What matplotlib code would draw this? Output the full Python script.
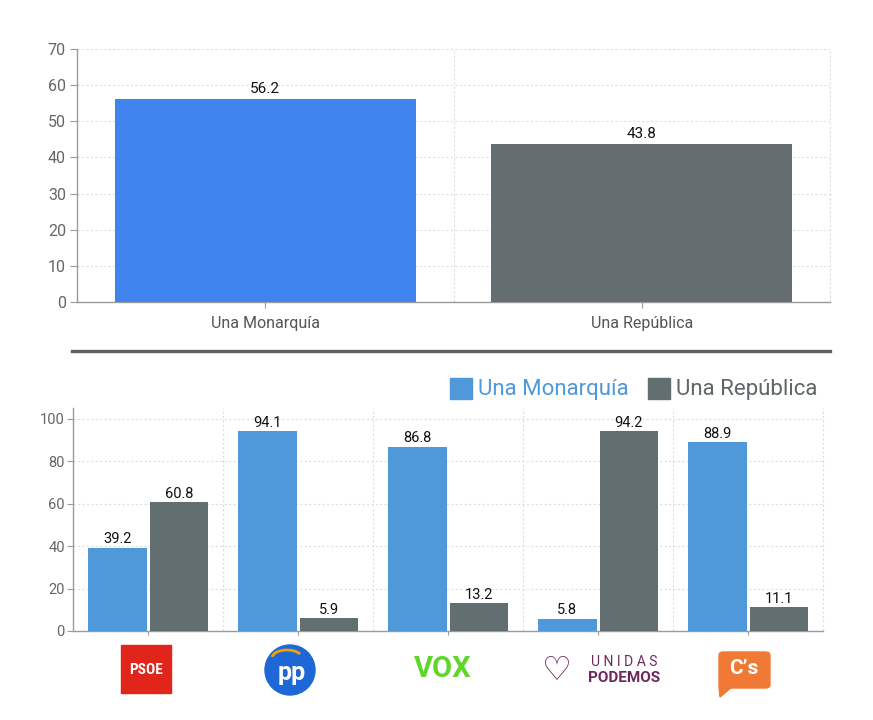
import matplotlib
matplotlib.use("Agg")
import matplotlib.pyplot as plt
from matplotlib.patches import Rectangle, Ellipse, FancyBboxPatch, Polygon, Arc
import numpy as np

plt.rcParams['font.family'] = ['Roboto', 'DejaVu Sans']

top_categories = ["Una Monarquía", "Una República"]
top_values = [56.2, 43.8]

parties = ["PSOE", "PP", "VOX", "UNIDAS PODEMOS", "C's"]
monarquia = [39.2, 94.1, 86.8, 5.8, 88.9]
republica = [60.8, 5.9, 13.2, 94.2, 11.1]

W, H = 873, 720
fig = plt.figure(figsize=(W / 100, H / 100), dpi=100)

def fx(x):
    return x / W

def fy(y):
    return 1 - y / H

TOP_BLUE = "#3f83ee"
TOP_GRAY = "#646d6f"
BLUE = "#4f98d9"
GRAY = "#636e70"
GRID = "#dedede"
SPINE = "#9a9a9a"
TICK = "#666666"

# ---------- Top chart ----------
ax1 = fig.add_axes([fx(77), fy(302), fx(830) - fx(77), fy(49) - fy(302)])
x1 = np.arange(len(top_categories))
bars = ax1.bar(x1, top_values, width=0.80, color=[TOP_BLUE, TOP_GRAY], zorder=3)
for b, v in zip(bars, top_values):
    ax1.text(b.get_x() + b.get_width() / 2, v + 0.8, f"{v:.1f}", ha="center", va="bottom",
             fontsize=11, color="#111111", zorder=4)
ax1.set_xlim(-0.5, len(top_categories) - 0.5)
ax1.set_ylim(0, 70)
ax1.set_yticks(np.arange(0, 71, 10))
ax1.set_xticks(x1)
ax1.set_xticklabels(top_categories, fontsize=11.5, color="#555555")
ax1.set_xticks(np.arange(0.5, len(top_categories) + 0.5, 1), minor=True)
ax1.tick_params(axis="x", which="minor", length=0)
ax1.tick_params(axis="x", which="major", length=4, color=SPINE, pad=6)
ax1.tick_params(axis="y", length=5, color=SPINE, labelsize=11.5, labelcolor=TICK, pad=3)
ax1.grid(axis="y", which="major", color=GRID, linestyle=(0, (2, 2)), linewidth=0.8, zorder=0)
ax1.grid(axis="x", which="minor", color=GRID, linestyle=(0, (2, 2)), linewidth=0.8, zorder=0)
ax1.axvline(len(top_categories) - 0.5, color=GRID, linestyle=(0, (2, 2)), linewidth=0.8,
            zorder=0, clip_on=False)
for s in ["top", "right"]:
    ax1.spines[s].set_visible(False)
for s in ["left", "bottom"]:
    ax1.spines[s].set_color(SPINE)
    ax1.spines[s].set_linewidth(1.0)

# separator line
fig.add_artist(plt.Line2D([fx(72), fx(830)], [fy(351), fy(351)], color="#5c5f61",
                          linewidth=2.4, transform=fig.transFigure))

# ---------- Bottom chart ----------
ax2 = fig.add_axes([fx(73), fy(631), fx(823) - fx(73), fy(408) - fy(631)])
x2 = np.arange(len(parties))
bw = 0.39
off = 0.205
b1 = ax2.bar(x2 - off, monarquia, width=bw, color=BLUE, zorder=3, label="Una Monarquía")
b2 = ax2.bar(x2 + off, republica, width=bw, color=GRAY, zorder=3, label="Una República")
for bb, vals in ((b1, monarquia), (b2, republica)):
    for b, v in zip(bb, vals):
        ax2.text(b.get_x() + b.get_width() / 2, v + 0.6, f"{v:.1f}", ha="center", va="bottom",
                 fontsize=10.5, color="#111111", zorder=4)
ax2.set_xlim(-0.5, len(parties) - 0.5)
ax2.set_ylim(0, 105)
ax2.set_yticks(np.arange(0, 101, 20))
ax2.set_xticks(x2)
ax2.set_xticklabels([])
ax2.set_xticks(np.arange(0.5, len(parties) + 0.5, 1), minor=True)
ax2.tick_params(axis="x", which="minor", length=0)
ax2.tick_params(axis="x", which="major", length=3, color=SPINE)
ax2.tick_params(axis="y", length=4, color=SPINE, labelsize=10.5, labelcolor=TICK, pad=2)
ax2.grid(axis="y", which="major", color=GRID, linestyle=(0, (2, 2)), linewidth=0.8, zorder=0)
ax2.grid(axis="x", which="minor", color=GRID, linestyle=(0, (2, 2)), linewidth=0.8, zorder=0)
ax2.axvline(len(parties) - 0.5, color=GRID, linestyle=(0, (2, 2)), linewidth=0.8,
            zorder=0, clip_on=False)
for s in ["top", "right"]:
    ax2.spines[s].set_visible(False)
for s in ["left", "bottom"]:
    ax2.spines[s].set_color(SPINE)
    ax2.spines[s].set_linewidth(1.0)

# legend (manual, large)
fig.add_artist(Rectangle((fx(450), fy(399)), fx(22), fy(378) - fy(399), color=BLUE,
                         transform=fig.transFigure))
fig.text(fx(478), fy(389), "Una Monarquía", fontsize=16, color="#4f98d9", va="center", ha="left")
fig.add_artist(Rectangle((fx(648), fy(399)), fx(22), fy(378) - fy(399), color=GRAY,
                         transform=fig.transFigure))
fig.text(fx(676), fy(389), "Una República", fontsize=16, color="#5e6668", va="center", ha="left")

# ---------- Party logos ----------
# PSOE
fig.add_artist(Rectangle((fx(121), fy(693)), fx(50), fy(645) - fy(693), color="#e1251b",
                         transform=fig.transFigure))
fig.text(fx(146), fy(670), "PSOE", fontsize=11, fontweight="bold", color="white",
         ha="center", va="center", family=["Roboto Condensed", "Roboto", "DejaVu Sans"])
# PP
fig.add_artist(Ellipse((fx(290), fy(670)), 50 / W, 50 / H, color="#1d68d6",
                       transform=fig.transFigure))
fig.text(fx(292), fy(673), "pp", fontsize=18, fontweight="bold", color="white",
         ha="center", va="center")
fig.add_artist(Arc((fx(287), fy(658)), 30 / W, 16 / H, theta1=20, theta2=175,
                   color="#f2a100", linewidth=2, transform=fig.transFigure))
# VOX
fig.text(fx(443), fy(669), "VOX", fontsize=21, fontweight="bold", color="#5fd62c",
         ha="center", va="center")
# UNIDAS PODEMOS
fig.text(fx(624), fy(662), "U N I D A S", fontsize=10, color="#6c2a5c", ha="center", va="center")
fig.text(fx(624), fy(678), "PODEMOS", fontsize=11, fontweight="bold", color="#6c2a5c",
         ha="center", va="center")
fig.text(fx(557), fy(670), "♡", fontsize=24, color="#6c2a5c", ha="center", va="center",
         family=["DejaVu Sans"])
# C's
fig.add_artist(FancyBboxPatch((fx(719), fy(688)), fx(51), fy(652) - fy(688),
                              boxstyle="round,pad=0,rounding_size=0.005", color="#f07a35",
                              transform=fig.transFigure))
fig.add_artist(Polygon([[fx(719), fy(686)], [fx(733), fy(686)], [fx(720), fy(697)]],
                       closed=True, color="#f07a35", transform=fig.transFigure))
fig.text(fx(744), fy(669), "C’s", fontsize=15, fontweight="bold", color="white",
         ha="center", va="center")

fig.savefig("out.png", dpi=100, facecolor="white")
